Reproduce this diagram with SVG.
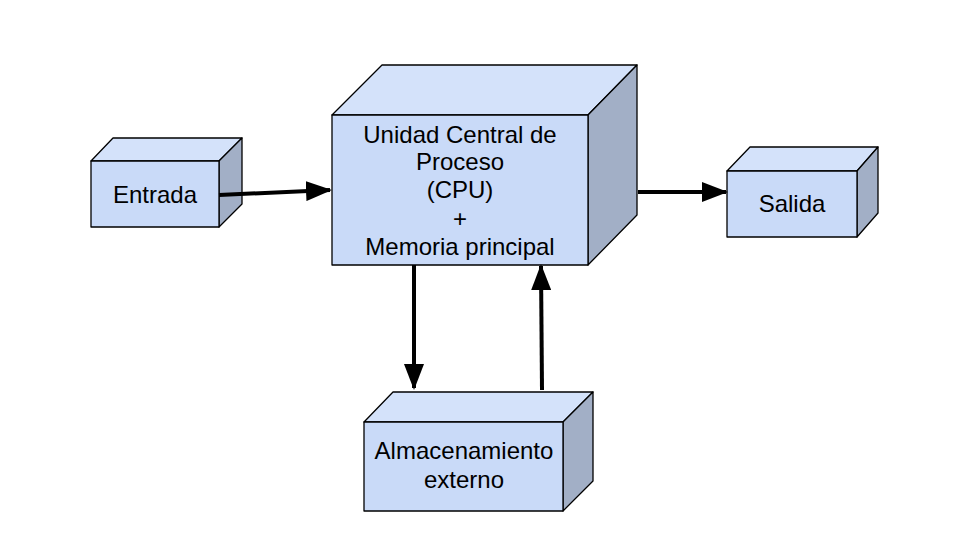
<svg xmlns="http://www.w3.org/2000/svg" width="966" height="559" viewBox="0 0 966 559">
<defs>
<style>
.front{fill:#c9daf8;stroke:#000;stroke-width:1.3;stroke-linejoin:round}
.top{fill:#d4e2fa;stroke:#000;stroke-width:1.3;stroke-linejoin:round}
.side{fill:#a2afc6;stroke:#000;stroke-width:1.3;stroke-linejoin:round}
.t{font-family:"Liberation Sans",Arial,sans-serif;font-size:24px;fill:#000;text-anchor:middle}
.c{stroke:#000;stroke-width:4;fill:none}
</style>
<marker id="ah" markerWidth="6.5" markerHeight="5" refX="6" refY="2.5" orient="auto" markerUnits="strokeWidth">
<path d="M0,0 L6.5,2.5 L0,5 Z" fill="#000"/>
</marker>
</defs>
<rect width="966" height="559" fill="#fff"/>
<g id="entrada">
<path class="top" d="M91,161 L113,138 L242,138 L219,161 Z"/>
<path class="side" d="M219,161 L242,138 L242,204 L219,227 Z"/>
<rect class="front" x="91" y="161" width="128" height="66"/>
<text class="t" x="155" y="203">Entrada</text>
</g>
<g id="cpu">
<path class="top" d="M332,115 L382,65 L637,65 L588,115 Z"/>
<path class="side" d="M588,115 L637,65 L637,215 L588,265 Z"/>
<rect class="front" x="332" y="115" width="256" height="150"/>
<text class="t" x="460" y="143">Unidad Central de</text>
<text class="t" x="460" y="170">Proceso</text>
<text class="t" x="460" y="198">(CPU)</text>
<text class="t" x="460" y="227">+</text>
<text class="t" x="460" y="255">Memoria principal</text>
</g>
<g id="salida">
<path class="top" d="M727,171 L750,147 L878,147 L857,171 Z"/>
<path class="side" d="M857,171 L878,147 L878,213 L857,237 Z"/>
<rect class="front" x="727" y="171" width="130" height="66"/>
<text class="t" x="792" y="212">Salida</text>
</g>
<g id="almacenamiento">
<path class="top" d="M364,422 L393,392 L593,392 L563,422 Z"/>
<path class="side" d="M563,422 L593,392 L593,481 L563,511 Z"/>
<rect class="front" x="364" y="422" width="199" height="89"/>
<text class="t" x="464" y="459">Almacenamiento</text>
<text class="t" x="464" y="488">externo</text>
</g>
<g id="connectors">
<line class="c" x1="219" y1="195" x2="330" y2="190" marker-end="url(#ah)"/>
<line class="c" x1="638" y1="192" x2="726" y2="192" marker-end="url(#ah)"/>
<line class="c" x1="414" y1="265" x2="414" y2="388" marker-end="url(#ah)"/>
<line class="c" x1="542" y1="390" x2="541" y2="266" marker-end="url(#ah)"/>
</g>
</svg>
